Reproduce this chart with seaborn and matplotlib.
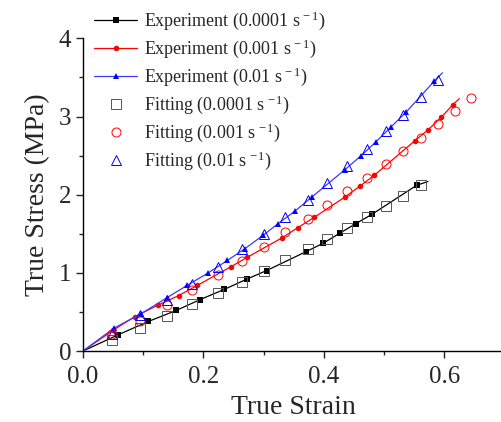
import numpy as np
import pandas as pd
import matplotlib
matplotlib.use('Agg')
import matplotlib.pyplot as plt
import seaborn as sns
from matplotlib.ticker import MultipleLocator

# experiment curves (line through all points, markers on inner points)
exp1_strain = [0.0, 0.059, 0.109, 0.155, 0.195, 0.235, 0.272, 0.305, 0.370, 0.399, 0.427, 0.453, 0.480, 0.554, 0.573]
exp1_stress = [0.0, 0.21, 0.38, 0.52, 0.66, 0.79, 0.92, 1.03, 1.27, 1.38, 1.51, 1.63, 1.75, 2.12, 2.17]

exp2_strain = [0.0, 0.050, 0.086, 0.124, 0.159, 0.190, 0.246, 0.273, 0.331, 0.357, 0.384, 0.435, 0.460, 0.484, 0.551, 0.573, 0.595, 0.614, 0.625]
exp2_stress = [0.0, 0.265, 0.44, 0.585, 0.71, 0.84, 1.08, 1.20, 1.45, 1.58, 1.71, 1.97, 2.11, 2.25, 2.69, 2.83, 2.99, 3.15, 3.23]

exp3_strain = [0.0, 0.051, 0.097, 0.139, 0.173, 0.208, 0.240, 0.269, 0.299, 0.324, 0.352, 0.380, 0.435, 0.462, 0.487, 0.512, 0.537, 0.583, 0.597]
exp3_stress = [0.0, 0.29, 0.48, 0.68, 0.84, 1.00, 1.16, 1.31, 1.48, 1.63, 1.79, 1.97, 2.32, 2.50, 2.68, 2.87, 3.06, 3.45, 3.56]

# fitting points
fit_strain = [0.0, 0.049, 0.095, 0.140, 0.182, 0.224, 0.264, 0.301, 0.336, 0.373, 0.406, 0.439, 0.471, 0.503, 0.532, 0.561, 0.590, 0.617, 0.644]
fit1_stress = [0.0, 0.145, 0.30, 0.45, 0.60, 0.74, 0.88, 1.03, 1.16, 1.31, 1.44, 1.58, 1.72, 1.85, 1.99, 2.12]
fit2_stress = [0.0, 0.22, 0.385, 0.585, 0.78, 0.97, 1.15, 1.33, 1.52, 1.69, 1.87, 2.05, 2.22, 2.39, 2.56, 2.73, 2.90, 3.07, 3.24]
fit3_stress = [0.0, 0.22, 0.46, 0.65, 0.86, 1.08, 1.30, 1.50, 1.72, 1.93, 2.15, 2.37, 2.58, 2.81, 3.02, 3.25, 3.47]

labels_exp = ['Experiment (0.0001 s$^{\\,-1}$)', 'Experiment (0.001 s$^{\\,-1}$)', 'Experiment (0.01 s$^{\\,-1}$)']
labels_fit = ['Fitting (0.0001 s$^{\\,-1}$)', 'Fitting (0.001 s$^{\\,-1}$)', 'Fitting (0.01 s$^{\\,-1}$)']

sns.set_style('ticks')
plt.rcParams['font.family'] = ['Liberation Serif', 'DejaVu Serif']
plt.rcParams['mathtext.fontset'] = 'custom'
plt.rcParams['mathtext.rm'] = 'Liberation Serif'
plt.rcParams['mathtext.it'] = 'Liberation Serif:italic'

fig = plt.figure(figsize=(5.02, 4.22), dpi=100)
ax = fig.add_axes([0.165, 0.168, 0.84, 0.741])

exp_sets = [(exp1_strain, exp1_stress, 'black', 'black', 's'),
            (exp2_strain, exp2_stress, 'red', 'red', 'o'),
            (exp3_strain, exp3_stress, '#3a3aff', 'blue', '^')]
for (xs, ys, c, mc, m), lab in zip(exp_sets, labels_exp):
    n = len(xs)
    sns.lineplot(x=xs, y=ys, ax=ax, color=c, lw=0.9, marker=m, markersize=4,
                 markeredgewidth=0, markerfacecolor=mc,
                 markevery=list(range(1, n - 1)), label=lab, sort=False)

fit_sets = [(fit1_stress, '#555555', 's'), (fit2_stress, 'red', 'o'), (fit3_stress, 'blue', '^')]
for (ys, c, m), lab in zip(fit_sets, labels_fit):
    xs = fit_strain[:len(ys)]
    ax.plot(xs[1:], ys[1:], linestyle='none', marker=m, markersize=6.5,
            markerfacecolor='none', markeredgecolor=c, markeredgewidth=0.7, label=lab)

ax.set_xlim(0, 0.7)
ax.set_ylim(0, 4)
ax.xaxis.set_minor_locator(MultipleLocator(0.1))
ax.yaxis.set_major_locator(MultipleLocator(1))
ax.yaxis.set_minor_locator(MultipleLocator(0.5))
ax.set_xticks([0, 0.2, 0.4, 0.6])
ax.set_xticklabels(['0.0', '0.2', '0.4', '0.6'])
ax.tick_params(which='major', direction='out', length=5, width=1, labelsize=18)
ax.tick_params(axis='x', which='major', pad=6)
ax.tick_params(which='minor', direction='out', length=3, width=1)
sns.despine(ax=ax)
for s in ['left', 'bottom']:
    ax.spines[s].set_linewidth(1.0)
    ax.spines[s].set_color('black')

ax.set_xlabel('True Strain', fontsize=20, labelpad=5)
ax.set_ylabel('True Stress (MPa)', fontsize=20, labelpad=6)

ax.legend(loc='upper left', bbox_to_anchor=(0.18, 0.985), bbox_transform=fig.transFigure,
          frameon=False, fontsize=13, handlelength=2.4, handletextpad=0.35,
          labelspacing=0.3, borderpad=0.2, borderaxespad=0)

fig.savefig('out.png', dpi=100)
